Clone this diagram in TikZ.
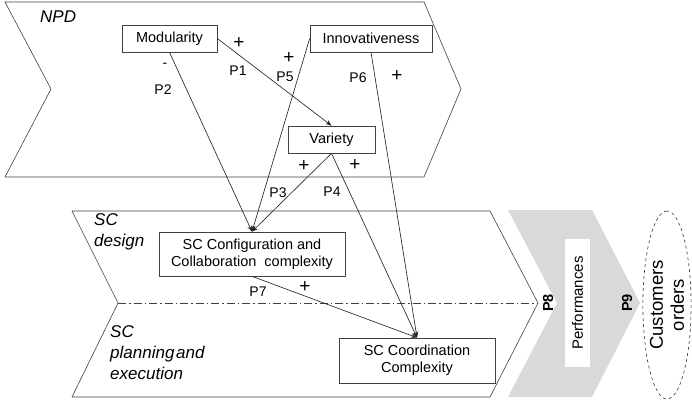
\documentclass[tikz,border=0pt]{standalone}
\usepackage{fontspec}
\setmainfont{Liberation Sans}
\usetikzlibrary{arrows.meta,shapes.geometric}
\begin{document}
\begin{tikzpicture}[x=1pt,y=-1pt,
  box/.style={draw=black!75, line width=0.7pt, fill=white, inner sep=0pt,
    font=\fontsize{14.5}{17}\selectfont, align=center},
  link/.style={line width=0.65pt, draw=black!85},
  tip/.style={-{Stealth[length=6pt,width=4.5pt]}},
  lbl/.style={font=\fontsize{14}{16}\selectfont, inner sep=0pt},
  sign/.style={font=\fontsize{19}{20}\selectfont, inner sep=0pt},
  area/.style={font=\fontsize{17}{21}\selectfont\itshape, align=left, inner sep=0pt},
  frame/.style={draw=black!75, line width=0.6pt}]

\useasboundingbox (0,0) rectangle (692,400);

% process chevrons
\draw[frame] (5,2) -- (424,2) -- (461,89) -- (424,177) -- (5,177) -- (51,89) -- cycle;
\draw[frame] (72,211) -- (490,211) -- (538,303) -- (490,397) -- (72,397) -- (118,303) -- cycle;
\draw[frame, dash pattern=on 8pt off 3pt on 1.5pt off 3pt] (118,303) -- (538,303);
\fill[black!15] (508,210) -- (592,210) -- (640,303) -- (592,397) -- (508,397) -- (557,303) -- cycle;

% area titles
\node[area, anchor=west] (npd) at (40,17) {NPD};
\node[area, anchor=north west] (scd) at (94,213) {SC\\design};
\node[area, anchor=north west] (scp) at (110,325) {SC\\planning\hspace{0.1em}and\\execution};

% constructs
\node[box, minimum width=95pt, minimum height=27pt] (mod) at (169.5,38.5) {Modularity};
\node[box, minimum width=122pt, minimum height=27pt] (inn) at (371,38.5) {Innovativeness};
\node[box, minimum width=87pt, minimum height=27pt] (var) at (331.5,139.5) {Variety};
\node[box, minimum width=186pt, minimum height=44pt] (cfg) at (252,254) {SC Configuration and\\Collaboration\ \ complexity};
\node[box, minimum width=156pt, minimum height=45pt] (crd) at (417,360.5) {SC Coordination\\Complexity};

% propositions
\draw[link, tip] (mod.east) -- (var.north);
\draw[link, tip] (mod.south) -- (cfg.north);
\draw[link, tip] (inn.west) -- (cfg.north);
\draw[link, tip] (var.south) -- (cfg.north);
\draw[link, tip] (var.south) -- (crd.north);
\draw[link, tip] (inn.south) -- (crd.north);
\draw[link, tip] (cfg.south) -- (crd.north);

% proposition labels
\node[sign] (s1) at (239,43) {+};
\node[lbl] (p1) at (238,71) {P1};
\node[lbl] (s2) at (165,65) {-};
\node[lbl] (p2) at (163,90) {P2};
\node[sign] (s5) at (289,58) {+};
\node[lbl] (p5) at (285,77) {P5};
\node[lbl] (p6) at (358,78) {P6};
\node[sign] (s6) at (397,76) {+};
\node[sign] (s3) at (304,166) {+};
\node[sign] (s4) at (355,165) {+};
\node[lbl] (p3) at (278,193) {P3};
\node[lbl] (p4) at (332,192) {P4};
\node[lbl] (p7) at (258,292) {P7};
\node[sign] (s7) at (305,287) {+};

% outcomes
\node[lbl, font=\fontsize{14.5}{16}\selectfont\bfseries, rotate=90] (p8) at (548,303) {P8};
\node[box, draw=none, minimum width=128pt, minimum height=25pt, rotate=90,
  font=\fontsize{15}{17}\selectfont] (perf) at (577.5,303) {Performances};
\node[lbl, font=\fontsize{14.5}{16}\selectfont\bfseries, rotate=90] (p9) at (627,303) {P9};
\node[ellipse, draw=black!80, dashed, line width=0.6pt, rotate=90, minimum width=188pt,
  minimum height=46pt, inner sep=0pt, align=center, font=\fontsize{18.5}{21}\selectfont] (ord) at (667,305) {Customers\\orders};
\end{tikzpicture}
\end{document}
